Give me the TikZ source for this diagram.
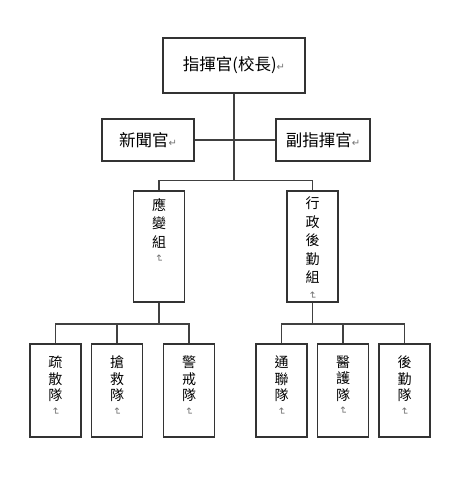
\documentclass[tikz,border=0pt]{standalone}
\usepackage{fontspec}
\usepackage{graphicx}
\setmainfont{Noto Sans CJK TC}
\newfontfamily\symfont{DejaVu Sans}
\usetikzlibrary{positioning, calc}
\newcommand{\ret}{{\symfont\color{black!55}\fontsize{10}{10}\selectfont ↵}}
\newcommand{\vret}{\rotatebox{-90}{\ret}}
\newcommand{\vcol}[4]{\parbox[t][#1][t]{51pt}{\centering\fontsize{14}{#3}\selectfont\vspace*{#2}#4}}

\begin{document}
\begin{tikzpicture}[x=1pt, y=1pt,
  box/.style={draw=black!80, line width=1.5pt, inner sep=0pt, align=center,
              font=\fontsize{16.5}{18}\selectfont},
  vbox/.style={box, minimum width=51pt},
  link/.style={draw=black!75, line width=1.5pt}
]
\useasboundingbox (0,0) rectangle (462,480);

\node[box, minimum width=142pt, minimum height=55pt] (chief)  at (234,414.5) {指揮官(校長)\ret};
\node[box, minimum width=92pt,  minimum height=42pt] (press)  at (148,340)   {新聞官\ret};
\node[box, minimum width=94pt,  minimum height=42pt] (deputy) at (323,340)   {副指揮官\ret};

\node[vbox] (ops)   at (159,233.5)   {\vcol{111pt}{7pt}{18.5pt}{應\\變\\組\\[-11pt]\vret}};
\node[vbox] (admin) at (312.5,233.5) {\vcol{111pt}{6pt}{18.5pt}{行\\政\\後\\勤\\組\\[-10pt]\vret}};

\node[vbox] (evac)    at (55.5,89.5)  {\vcol{93pt}{12pt}{16.5pt}{疏\\散\\隊\\[-10pt]\vret}};
\node[vbox] (rescue)  at (117,89.5)   {\vcol{93pt}{12pt}{16.5pt}{搶\\救\\隊\\[-10pt]\vret}};
\node[vbox] (guard)   at (189,89.5)   {\vcol{93pt}{12pt}{16.5pt}{警\\戒\\隊\\[-10pt]\vret}};
\node[vbox] (comm)    at (281.5,89.5) {\vcol{93pt}{12pt}{16.5pt}{通\\聯\\隊\\[-10pt]\vret}};
\node[vbox] (medic)   at (343,89.5)   {\vcol{93pt}{12pt}{16.5pt}{醫\\護\\隊\\[-10pt]\vret}};
\node[vbox] (supply)  at (404.5,89.5) {\vcol{93pt}{12pt}{16.5pt}{後\\勤\\隊\\[-10pt]\vret}};

\coordinate (topbus)   at (234,299.5);
\coordinate (opsbus)   at ($(ops.south)+(0,-21.5)$);
\coordinate (adminbus) at ($(admin.south)+(0,-21.5)$);

\draw[link] (press) -- (deputy);
\draw[link] (chief) -- (topbus);
\draw[link] (ops.north) |- (topbus) -| (admin.north);

\draw[link] (ops) -- (opsbus);
\draw[link] (evac.north) |- (opsbus) -| (guard.north);
\draw[link] (rescue) -- (rescue |- opsbus);

\draw[link] (admin) -- (adminbus);
\draw[link] (comm.north) |- (adminbus) -| (supply.north);
\draw[link] (medic) -- (medic |- adminbus);
\end{tikzpicture}
\end{document}
